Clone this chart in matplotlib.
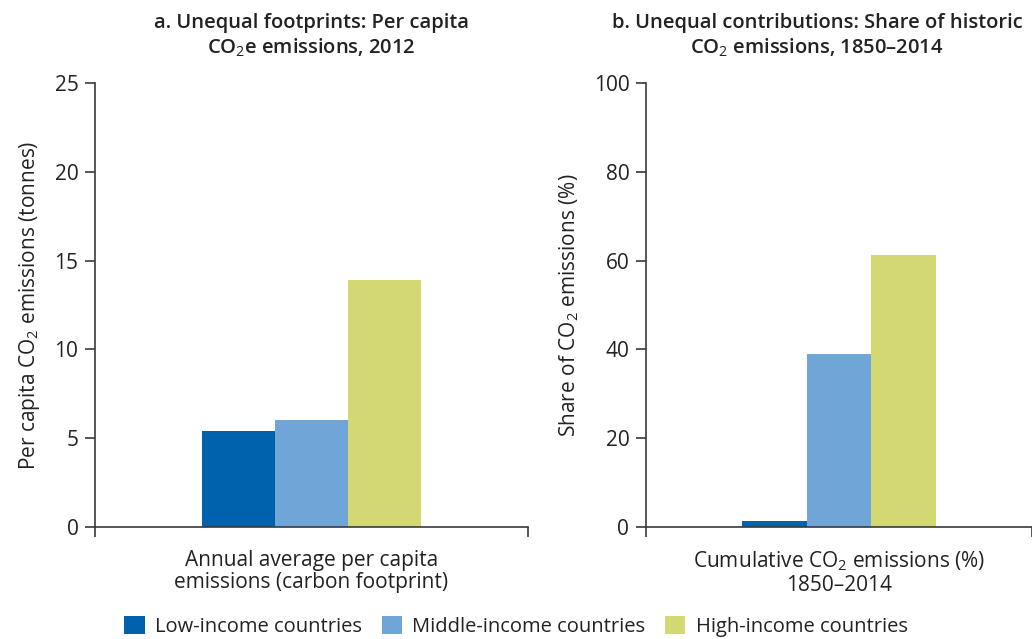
import matplotlib
matplotlib.use("Agg")
import matplotlib.pyplot as plt
from matplotlib.patches import Patch

plt.rcParams['font.family'] = ['Open Sans', 'DejaVu Sans']
plt.rcParams['mathtext.fontset'] = 'custom'
plt.rcParams['mathtext.rm'] = 'Open Sans'
plt.rcParams['mathtext.it'] = 'Open Sans'
plt.rcParams['mathtext.bf'] = 'Open Sans:semibold'

groups = ["Low-income countries", "Middle-income countries", "High-income countries"]
colors = ["#0062AC", "#6FA5D7", "#D4D873"]
per_capita = [5.4, 6.0, 13.9]
share_hist = [1.4, 39.0, 61.3]

titles = ["a. Unequal footprints: Per capita\nCO$_2$e emissions, 2012",
          "b. Unequal contributions: Share of historic\nCO$_2$ emissions, 1850–2014"]
title_x = [0.5, 0.443]
ylabels = ["Per capita CO$_2$ emissions (tonnes)", "Share of CO$_2$ emissions (%)"]
xlabels = ["Annual average per capita\nemissions (carbon footprint)",
           "Cumulative CO$_2$ emissions (%)\n1850–2014"]
yticks = [[0, 5, 10, 15, 20, 25], [0, 20, 40, 60, 80, 100]]
ylims = [25, 100]
data = [per_capita, share_hist]

fig = plt.figure(figsize=(10.32, 6.39), dpi=100)
axes = [fig.add_axes([0.0921, 0.1753, 0.4196, 0.6948]),
        fig.add_axes([0.626, 0.1753, 0.374, 0.6948])]

w = 0.168
axcol = "#3a3a3a"
tc = '#222222'
for ax, vals, t, tx, yl, xl, yt, ym in zip(axes, data, titles, title_x, ylabels, xlabels, yticks, ylims):
    for i, (v, c) in enumerate(zip(vals, colors)):
        ax.bar(0.5 + (i - 1) * w, v, width=w, color=c, edgecolor='none', zorder=2)
    ax.set_xlim(0, 1)
    ax.set_ylim(0, ym)
    ax.set_yticks(yt)
    ax.set_xticks([0, 1])
    ax.set_xticklabels(["", ""])
    for s in ['top', 'right']:
        ax.spines[s].set_visible(False)
    for s in ['left', 'bottom']:
        ax.spines[s].set_color(axcol)
        ax.spines[s].set_linewidth(1.2)
    ax.tick_params(axis='y', direction='out', length=7, width=1.2, color=axcol,
                   labelsize=15, labelcolor=tc, pad=5)
    ax.tick_params(axis='x', direction='out', length=7, width=1.2, color=axcol)
    ax.set_ylabel(yl, fontsize=15, color=tc, labelpad=9)
    ax.set_xlabel(xl, fontsize=15, color=tc, labelpad=6, linespacing=1.1)
    ax.set_title(t, x=tx, fontsize=14.5, fontweight='semibold', color=tc, pad=21, linespacing=1.25)

handles = [Patch(facecolor=c, edgecolor='none') for c in colors]
fig.legend(handles, groups, loc='center', bbox_to_anchor=(0.5, 0.02), ncol=3,
           frameon=False, fontsize=14.5, handlelength=1.0, handleheight=1.0,
           handletextpad=0.5, columnspacing=1.0, labelcolor=tc)

fig.savefig("out.png", dpi=100)
